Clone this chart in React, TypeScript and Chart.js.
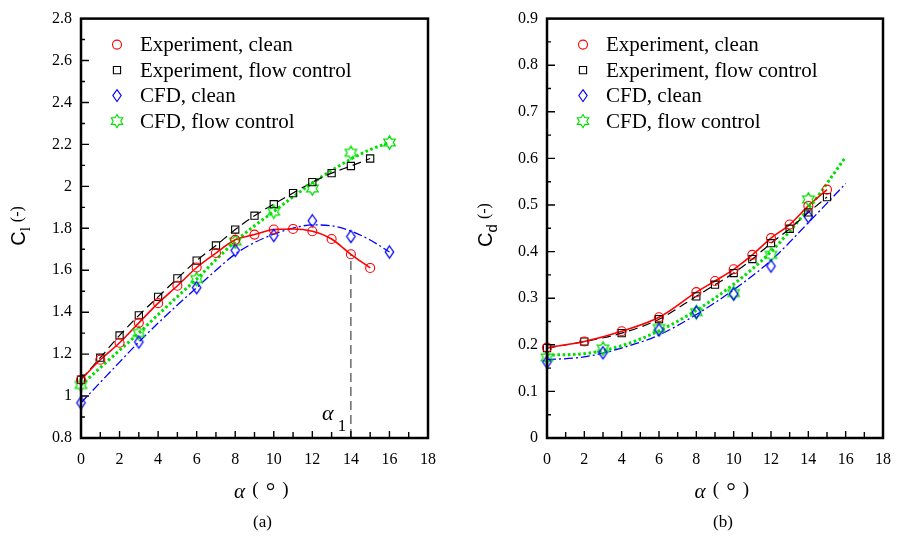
import React, { useEffect, useRef } from 'react';
import { Chart, registerables } from 'chart.js';

Chart.register(...registerables);

// ---------------- (a) lift coefficient ----------------
const alphaExp = [0, 1, 2, 3, 4, 5, 6, 7, 8, 9, 10, 11, 12, 13, 14, 15];
const clExpClean = [1.078, 1.173, 1.254, 1.349, 1.443, 1.526, 1.613, 1.682, 1.745, 1.77, 1.794, 1.797, 1.786, 1.749, 1.676, 1.611];
const clExpFlow = [1.078, 1.183, 1.289, 1.385, 1.473, 1.561, 1.646, 1.718, 1.794, 1.86, 1.915, 1.968, 2.02, 2.063, 2.097, 2.133];
const alphaCfd = [0, 3, 6, 8, 10, 12, 14, 16];
const clCfdClean = [0.968, 1.258, 1.517, 1.695, 1.766, 1.836, 1.761, 1.687];
const clCfdFlow = [1.053, 1.301, 1.558, 1.737, 1.879, 1.99, 2.16, 2.209];
const alphaClFit = [0, 1, 2, 3, 4, 5, 6, 7, 8, 9, 10, 11, 12, 13, 14, 15, 16];
const clCfdCleanFit = [0.968, 1.065, 1.162, 1.258, 1.348, 1.434, 1.517, 1.6, 1.677, 1.732, 1.772, 1.801, 1.816, 1.812, 1.787, 1.744, 1.687];
const clCfdFlowFit = [1.053, 1.135, 1.218, 1.301, 1.388, 1.474, 1.558, 1.65, 1.737, 1.812, 1.88, 1.95, 2.016, 2.076, 2.13, 2.175, 2.209];
const alphaStall = 14; // alpha_1
const clStall = clExpClean[alphaExp.indexOf(alphaStall)];

// ---------------- (b) drag coefficient ----------------
const alphaCdExp = [0, 2, 4, 6, 8, 9, 10, 11, 12, 13, 14, 15];
const cdExpClean = [0.194, 0.207, 0.229, 0.259, 0.313, 0.337, 0.362, 0.393, 0.429, 0.458, 0.498, 0.533];
const cdExpFlow = [0.193, 0.207, 0.225, 0.255, 0.304, 0.329, 0.354, 0.384, 0.418, 0.449, 0.484, 0.517];
const alphaCdCfd = [0, 3, 6, 8, 10, 12, 14];
const cdCfdClean = [0.163, 0.183, 0.232, 0.27, 0.309, 0.369, 0.475];
const cdCfdFlow = [0.173, 0.192, 0.236, 0.27, 0.311, 0.393, 0.512];
const alphaCdFit = [0, 2, 4, 6, 8, 10, 12, 14, 16];
const cdCfdCleanFit = [0.168, 0.174, 0.193, 0.221, 0.265, 0.318, 0.381, 0.462, 0.546];
const cdCfdFlowFit = [0.178, 0.181, 0.198, 0.23, 0.274, 0.33, 0.4, 0.492, 0.603];

// ---------------- labels ----------------
const seriesNames = ['Experiment, clean', 'Experiment, flow control', 'CFD, clean', 'CFD, flow control'];
const xAxisRange = [0, 18];
const xLabelStep = 2;
const clAxisRange = [0.8, 2.8];
const clLabelStep = 0.2;
const cdAxisRange = [0, 0.9];
const cdLabelStep = 0.1;

const SERIF = '"Liberation Serif", "Times New Roman", serif';
const SANS = '"Liberation Sans", Arial, sans-serif';
const RED = '#ff0000';
const BLUE = '#0000ff';
const GREEN = '#00e000';

function pts(xs: number[], ys: number[]) {
  return xs.map((x, i) => ({ x, y: ys[i] }));
}

function tracePath(g: CanvasRenderingContext2D, kind: string, x: number, y: number) {
  g.beginPath();
  if (kind === 'circle') {
    g.arc(x, y, 4.5, 0, Math.PI * 2);
  } else if (kind === 'square') {
    g.rect(x - 3.6, y - 3.6, 7.2, 7.2);
  } else if (kind === 'diamond') {
    g.moveTo(x, y - 6);
    g.lineTo(x + 4.2, y);
    g.lineTo(x, y + 6);
    g.lineTo(x - 4.2, y);
    g.closePath();
  } else {
    const ro = 6.6;
    const ri = ro / Math.sqrt(3);
    for (let i = 0; i < 12; i++) {
      const r = i % 2 === 0 ? ro : ri;
      const a = -Math.PI / 2 + (i * Math.PI) / 6;
      const px = x + r * Math.cos(a);
      const py = y + r * Math.sin(a);
      if (i === 0) g.moveTo(px, py);
      else g.lineTo(px, py);
    }
    g.closePath();
  }
}

const markerKinds = ['circle', 'square', 'diamond', 'star'];
const markerColors = [RED, '#000000', BLUE, GREEN];

function makeMarker(kind: string, color: string): HTMLCanvasElement {
  const c = document.createElement('canvas');
  c.width = 17;
  c.height = 17;
  const g = c.getContext('2d')!;
  g.strokeStyle = color;
  g.lineWidth = 1.3;
  tracePath(g, kind, 8.5, 8.5);
  g.stroke();
  return c;
}

interface Series { xs: number[]; ys: number[]; }
interface Spec {
  markers: Series[];
  lines: { xs: number[]; ys: number[]; color: string; width: number; dash: number[] }[];
  yRange: number[];
  yStep: number;
  yWidth: number;
  padRight: number;
  ySub: string;
  ySubFont: string;
  yTitleX: number;
  yTitleY: number;
  caption: string;
  stall?: { x: number; y: number };
}

function fmt(v: number) {
  return String(Math.round(v * 100) / 100);
}

function makeConfig(spec: Spec, mk: Record<string, HTMLCanvasElement>): any {
  const datasets: any[] = [];
  spec.markers.forEach((s, i) => {
    const kind = markerKinds[i];
    const base: any = {
      label: seriesNames[i],
      data: pts(s.xs, s.ys),
      showLine: false,
      clip: false,
      borderColor: markerColors[i],
      backgroundColor: 'rgba(0,0,0,0)',
      pointBackgroundColor: 'rgba(0,0,0,0)',
      pointBorderColor: markerColors[i],
      pointBorderWidth: 1.1,
    };
    if (kind === 'circle') {
      base.pointStyle = 'circle';
      base.pointRadius = 4.5;
      base.pointHoverRadius = 4.5;
    } else if (kind === 'square') {
      base.pointStyle = 'rect';
      base.pointRadius = 5.1;
      base.pointHoverRadius = 5.1;
    } else {
      base.pointStyle = mk[kind];
      base.pointRadius = 5;
      base.pointHoverRadius = 5;
    }
    datasets.push(base);
  });
  spec.lines.forEach((l) => {
    datasets.push({
      label: '',
      data: pts(l.xs, l.ys),
      showLine: true,
      borderColor: l.color,
      borderWidth: l.width,
      borderDash: l.dash,
      borderCapStyle: 'butt',
      pointRadius: 0,
      cubicInterpolationMode: 'monotone',
      fill: false,
      clip: false,
    });
  });
  if (spec.stall) {
    datasets.push({
      label: '',
      data: [
        { x: spec.stall.x, y: spec.yRange[0] },
        { x: spec.stall.x, y: spec.stall.y },
      ],
      showLine: true,
      borderColor: '#333',
      borderWidth: 1.1,
      borderDash: [9, 5],
      pointRadius: 0,
      tension: 0,
      fill: false,
    });
  }

  const decor = {
    id: 'decor',
    afterDraw(chart: any) {
      const { ctx, chartArea: a, scales } = chart;
      const xs = scales.x;
      const ys = scales.y;
      ctx.save();
      // inward tick marks
      ctx.strokeStyle = '#000';
      ctx.lineWidth = 1.4;
      ctx.setLineDash([]);
      ctx.beginPath();
      const nX = Math.round(xAxisRange[1] - xAxisRange[0]);
      for (let i = 1; i < nX; i++) {
        const px = xs.getPixelForValue(xAxisRange[0] + i);
        const len = i % 2 === 0 ? 7 : 6;
        ctx.moveTo(px, a.bottom);
        ctx.lineTo(px, a.bottom - len);
      }
      const minor = spec.yStep / 2;
      const nY = Math.round((spec.yRange[1] - spec.yRange[0]) / minor);
      for (let i = 1; i < nY; i++) {
        const py = ys.getPixelForValue(spec.yRange[0] + i * minor);
        const len = i % 2 === 0 ? 8 : 4;
        ctx.moveTo(a.left, py);
        ctx.lineTo(a.left + len, py);
      }
      ctx.stroke();
      // frame
      ctx.lineWidth = 2.5;
      ctx.strokeRect(a.left, a.top, a.right - a.left, a.bottom - a.top);

      // legend
      ctx.font = `21px ${SERIF}`;
      ctx.textAlign = 'left';
      ctx.textBaseline = 'middle';
      seriesNames.forEach((name, i) => {
        const yy = a.top + 26 + i * 25.5;
        ctx.strokeStyle = markerColors[i];
        ctx.lineWidth = 1.1;
        tracePath(ctx, markerKinds[i], a.left + 36, yy);
        ctx.stroke();
        ctx.fillStyle = '#000';
        ctx.fillText(name, a.left + 59, yy + 1);
      });

      // y-axis title (rotated)
      ctx.fillStyle = '#000';
      ctx.save();
      ctx.translate(spec.yTitleX, spec.yTitleY);
      ctx.rotate(-Math.PI / 2);
      ctx.textAlign = 'left';
      ctx.textBaseline = 'alphabetic';
      ctx.font = `20px ${SANS}`;
      const wC = ctx.measureText('C').width;
      ctx.font = spec.ySubFont;
      const wS = ctx.measureText(spec.ySub).width;
      ctx.font = `16px ${SERIF}`;
      const wP = ctx.measureText('(-)').width;
      const gap = 5;
      const total = wC + wS + gap + wP;
      let x0 = -total / 2;
      ctx.font = `20px ${SANS}`;
      ctx.fillText('C', x0, 0);
      x0 += wC;
      ctx.font = spec.ySubFont;
      ctx.fillText(spec.ySub, x0, 5);
      x0 += wS + gap;
      ctx.font = `16px ${SERIF}`;
      ctx.fillText('(-)', x0, -3);
      ctx.restore();

      // x-axis title
      const cx = (a.left + a.right) / 2 + 4;
      ctx.textBaseline = 'middle';
      ctx.textAlign = 'center';
      ctx.font = `italic 21px ${SERIF}`;
      ctx.fillText('α', cx - 19, 492);
      ctx.font = `19px ${SERIF}`;
      ctx.fillText('(', cx - 3, 490);
      ctx.font = `24px ${SERIF}`;
      ctx.fillText('°', cx + 12, 493);
      ctx.font = `19px ${SERIF}`;
      ctx.fillText(')', cx + 27, 490);

      // caption
      ctx.font = `17px ${SERIF}`;
      ctx.fillText(spec.caption, cx + 4, 523);

      // alpha_1 annotation
      if (spec.stall) {
        const sx = xs.getPixelForValue(spec.stall.x);
        ctx.textAlign = 'center';
        ctx.textBaseline = 'alphabetic';
        ctx.font = `italic 22px ${SERIF}`;
        ctx.fillText('α', sx - 23, a.bottom - 18);
        ctx.font = `17px ${SERIF}`;
        ctx.fillText('1', sx - 9, a.bottom - 7);
      }
      ctx.restore();
    },
  };

  return {
    type: 'scatter',
    data: { datasets },
    plugins: [decor],
    options: {
      animation: false,
      responsive: false,
      devicePixelRatio: 1,
      events: [],
      layout: { padding: { left: 0, right: spec.padRight, top: 14, bottom: 0 } },
      plugins: { legend: { display: false }, tooltip: { enabled: false }, title: { display: false } },
      scales: {
        x: {
          type: 'linear',
          min: xAxisRange[0],
          max: xAxisRange[1],
          grid: { display: false, drawTicks: false },
          border: { display: false },
          ticks: {
            stepSize: xLabelStep,
            padding: 12,
            color: '#000',
            font: { family: SERIF, size: 16 },
            callback: (v: number) => fmt(v),
            maxRotation: 0,
          },
          afterFit: (s: any) => {
            s.height = 101;
          },
        },
        y: {
          type: 'linear',
          min: spec.yRange[0],
          max: spec.yRange[1],
          grid: { display: false, drawTicks: false },
          border: { display: false },
          ticks: {
            stepSize: spec.yStep,
            padding: 9,
            color: '#000',
            font: { family: SERIF, size: 16 },
            callback: (v: number) => fmt(v),
          },
          afterFit: (s: any) => {
            s.width = spec.yWidth;
          },
        },
      },
    },
  };
}

const leftSpec: Spec = {
  markers: [
    { xs: alphaExp, ys: clExpClean },
    { xs: alphaExp, ys: clExpFlow },
    { xs: alphaCfd, ys: clCfdClean },
    { xs: alphaCfd, ys: clCfdFlow },
  ],
  lines: [
    { xs: alphaExp, ys: clExpClean, color: RED, width: 1.6, dash: [] },
    { xs: alphaExp, ys: clExpFlow, color: '#000', width: 1.2, dash: [9, 5] },
    { xs: alphaClFit, ys: clCfdCleanFit, color: BLUE, width: 1.3, dash: [9, 3, 2, 3] },
    { xs: alphaClFit, ys: clCfdFlowFit, color: GREEN, width: 3, dash: [2.6, 2.6] },
  ],
  yRange: clAxisRange,
  yStep: clLabelStep,
  yWidth: 81,
  padRight: 24,
  ySub: 'l',
  ySubFont: `15px ${SERIF}`,
  yTitleX: 25,
  yTitleY: 226,
  caption: '(a)',
  stall: { x: alphaStall, y: clStall },
};

const rightSpec: Spec = {
  markers: [
    { xs: alphaCdExp, ys: cdExpClean },
    { xs: alphaCdExp, ys: cdExpFlow },
    { xs: alphaCdCfd, ys: cdCfdClean },
    { xs: alphaCdCfd, ys: cdCfdFlow },
  ],
  lines: [
    { xs: alphaCdExp, ys: cdExpClean, color: RED, width: 1.6, dash: [] },
    { xs: alphaCdExp, ys: cdExpFlow, color: '#000', width: 1.2, dash: [9, 5] },
    { xs: alphaCdFit, ys: cdCfdCleanFit, color: BLUE, width: 1.3, dash: [9, 3, 2, 3] },
    { xs: alphaCdFit, ys: cdCfdFlowFit, color: GREEN, width: 3, dash: [2.6, 2.6] },
  ],
  yRange: cdAxisRange,
  yStep: cdLabelStep,
  yWidth: 95,
  padRight: 10,
  ySub: 'd',
  ySubFont: `15px ${SANS}`,
  yTitleX: 40,
  yTitleY: 225,
  caption: '(b)',
};

export default function App() {
  const leftRef = useRef<HTMLCanvasElement>(null);
  const rightRef = useRef<HTMLCanvasElement>(null);

  useEffect(() => {
    const mk: Record<string, HTMLCanvasElement> = {};
    markerKinds.forEach((k, i) => {
      mk[k] = makeMarker(k, markerColors[i]);
    });
    const c1 = new Chart(leftRef.current!, makeConfig(leftSpec, mk));
    const c2 = new Chart(rightRef.current!, makeConfig(rightSpec, mk));
    return () => {
      c1.destroy();
      c2.destroy();
    };
  }, []);

  return (
    <div style={{ position: 'absolute', left: 0, top: 0, width: 903, height: 539, background: '#fff' }}>
      <canvas
        ref={leftRef}
        width={452}
        height={539}
        style={{ position: 'absolute', left: 0, top: 0, width: 452, height: 539 }}
      />
      <canvas
        ref={rightRef}
        width={451}
        height={539}
        style={{ position: 'absolute', left: 452, top: 0, width: 451, height: 539 }}
      />
    </div>
  );
}
